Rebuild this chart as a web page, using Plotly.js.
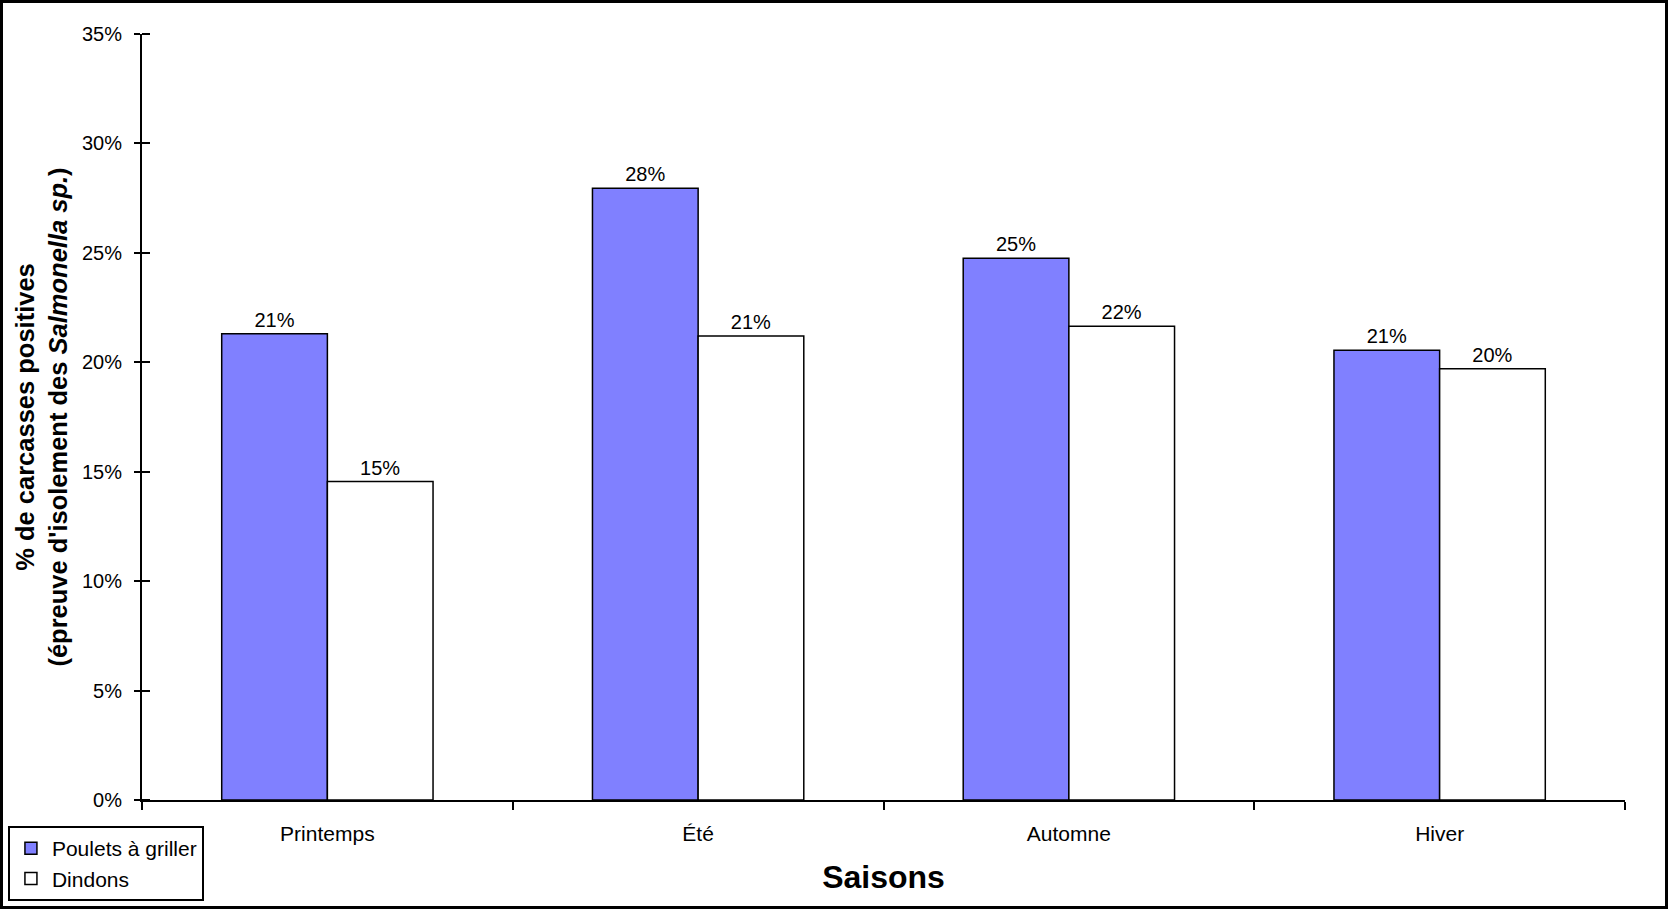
<!DOCTYPE html>
<html>
<head>
<meta charset="utf-8">
<script src="https://cdn.plot.ly/plotly-3.0.1.min.js"></script>
<style>
  html, body { margin: 0; padding: 0; background: #fff; }
  #frame { width: 1662px; height: 903px; border: 3px solid #000; }
</style>
</head>
<body>
<div id="frame"><div id="chart" style="width:1662px;height:903px;"></div></div>
<script>
// Data
const seasons = ["Printemps", "Été", "Automne", "Hiver"];
const seriesNames = ["Poulets à griller", "Dindons"];
const poulets = [0.213, 0.2795, 0.2475, 0.2055];
const dindons = [0.1455, 0.212, 0.2165, 0.197];
const yTicks = [0, 0.05, 0.10, 0.15, 0.20, 0.25, 0.30, 0.35];

const FONT = "Liberation Sans, Arial, Helvetica, sans-serif";
const EPS = 1e-9; // minor ticks sit on the major ones (inner half of crossing ticks)

const traces = [
  {
    type: "bar", name: seriesNames[0], x: seasons, y: poulets,
    marker: { color: "#8080FF", line: { color: "#000", width: 1.5 } },
    texttemplate: "%{y:.0%}", textposition: "outside",
    textfont: { family: FONT, size: 20, color: "#000" },
    cliponaxis: false, hoverinfo: "skip", legendgroup: "a"
  },
  {
    type: "bar", name: seriesNames[1], x: seasons, y: dindons,
    marker: { color: "#FFFFFF", line: { color: "#000", width: 1.5 } },
    texttemplate: "%{y:.0%}", textposition: "outside",
    textfont: { family: FONT, size: 20, color: "#000" },
    cliponaxis: false, hoverinfo: "skip", legendgroup: "b"
  }
];

const layout = {
  width: 1662, height: 903,
  margin: { l: 139, r: 40, t: 31, b: 106, autoexpand: false },
  paper_bgcolor: "#fff", plot_bgcolor: "#fff",
  font: { family: FONT, size: 20, color: "#000" },
  barmode: "group", bargap: 0.43, bargroupgap: 0,
  showlegend: true,
  legend: {
    x: -0.0904, y: -0.083, xanchor: "left", yanchor: "middle",
    bordercolor: "#000", borderwidth: 2, bgcolor: "#fff",
    font: { family: FONT, size: 21, color: "#000" },
    traceorder: "grouped", tracegroupgap: 0,
    itemwidth: 32
  },
  xaxis: {
    type: "category", range: [-0.5, 3.5],
    showline: true, linecolor: "#000", linewidth: 2,
    ticks: "outside", tickson: "boundaries", ticklen: 8, tickwidth: 2, tickcolor: "#000",
    showgrid: false, zeroline: false,
    tickfont: { family: FONT, size: 21, color: "#000" },
    ticklabelstandoff: 14,
    title: { text: "Saisons", font: { family: FONT, size: 32, color: "#000", weight: "bold" }, standoff: 21 },
    fixedrange: true
  },
  yaxis: {
    range: [0, 0.35], tickmode: "array", tickvals: yTicks, tickformat: ".0%",
    showline: true, linecolor: "#000", linewidth: 2,
    ticks: "outside", ticklen: 6, tickwidth: 2, tickcolor: "#000",
    minor: { tickmode: "array", tickvals: yTicks.map(v => v + EPS),
             ticks: "inside", ticklen: 8, tickwidth: 2, tickcolor: "#000", showgrid: false },
    showgrid: false, zeroline: false,
    tickfont: { family: FONT, size: 20, color: "#000" },
    ticklabelstandoff: 8,
    title: {
      text: "% de carcasses positives<br>(épreuve d'isolement des <i>Salmonella sp.</i>)",
      font: { family: FONT, size: 25.5, color: "#000", weight: "bold" }, standoff: 7
    },
    fixedrange: true
  }
};

Plotly.newPlot("chart", traces, layout, { displayModeBar: false, staticPlot: true });
</script>
</body>
</html>
